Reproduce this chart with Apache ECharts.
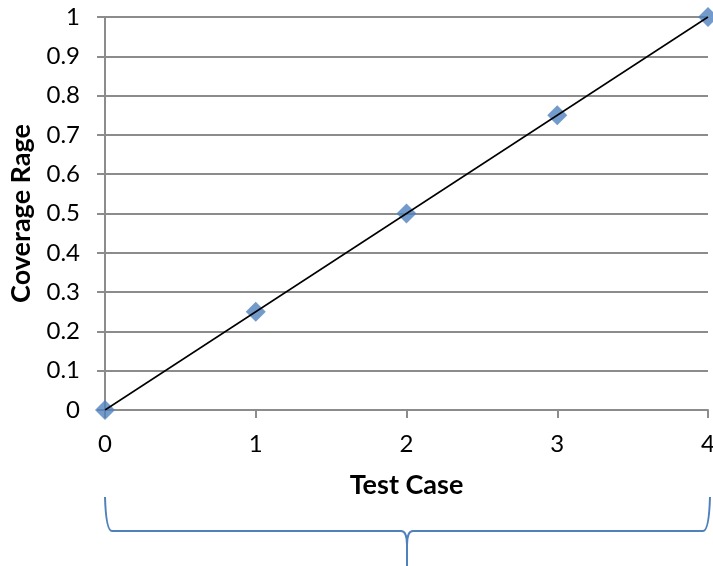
<!DOCTYPE html>
<html>
<head>
<meta charset="utf-8">
<script src="https://cdn.jsdelivr.net/npm/echarts@6/dist/echarts.min.js"></script>
<style>
  html, body { margin: 0; padding: 0; background: #fff; }
  #chart { width: 713px; height: 566px; }
</style>
</head>
<body>
<div id="chart"></div>
<script>
// Coverage rate measured after each test case
const testCases = [0, 1, 2, 3, 4];
const coverage = [0, 0.25, 0.5, 0.75, 1];
// Linear trend line endpoints (fit over the measured points)
const trendX = [0, 4];
const trendY = [0, 1];

const FONT = 'Lato, "Open Sans", sans-serif';
const chart = echarts.init(document.getElementById('chart'));

// Curly brace under the x axis, built from quadratic curves and straight segments
const braceStyle = { fill: null, stroke: '#4f81bd', lineWidth: 2 };
const curve = (x1, y1, cx, cy, x2, y2) => ({
  type: 'bezierCurve',
  shape: { x1, y1, x2, y2, cpx1: cx, cpy1: cy },
  style: braceStyle
});
const seg = (x1, y1, x2, y2) => ({
  type: 'line',
  shape: { x1, y1, x2, y2 },
  style: braceStyle
});

chart.setOption({
  animation: false,
  backgroundColor: '#ffffff',
  grid: { left: 105, right: 5, top: 17, bottom: 156, containLabel: false, outerBoundsMode: 'none' },
  xAxis: {
    type: 'value',
    min: 0, max: 4, interval: 1,
    name: 'Test Case',
    nameLocation: 'middle',
    nameGap: 62,
    nameTextStyle: { fontFamily: FONT, fontWeight: 'bold', fontSize: 27, color: '#000' },
    axisLine: { show: true, lineStyle: { color: '#8c8c8c', width: 2 } },
    axisTick: { show: true, length: 8, lineStyle: { color: '#8c8c8c', width: 2 } },
    axisLabel: { fontFamily: FONT, fontSize: 24, color: '#000', margin: 22 },
    splitLine: { show: false }
  },
  yAxis: {
    type: 'value',
    min: 0, max: 1, interval: 0.1,
    name: 'Coverage Rage',
    nameLocation: 'middle',
    nameGap: 70,
    nameRotate: 90,
    nameTextStyle: { fontFamily: FONT, fontWeight: 'bold', fontSize: 27, color: '#000' },
    axisLine: { show: true, lineStyle: { color: '#8c8c8c', width: 2 } },
    axisTick: { show: true, length: 8, lineStyle: { color: '#8c8c8c', width: 2 } },
    axisLabel: {
      fontFamily: FONT, fontSize: 24, color: '#000', margin: 25,
      formatter: v => String(Math.round(v * 10) / 10)
    },
    splitLine: { show: true, lineStyle: { color: '#8c8c8c', width: 2 } }
  },
  series: [
    {
      type: 'scatter',
      data: testCases.map((x, i) => [x, coverage[i]]),
      symbol: 'diamond',
      symbolSize: 20,
      itemStyle: { color: '#4f81bd' },
      clip: false,
      z: 2
    },
    {
      type: 'line',
      data: trendX.map((x, i) => [x, trendY[i]]),
      showSymbol: false,
      symbol: 'none',
      lineStyle: { color: '#000', width: 1.5 },
      z: 3
    }
  ],
  graphic: [
    curve(105, 497, 106, 531, 112, 531),
    seg(112, 531, 401, 531),
    curve(401, 531, 407, 531, 407, 545),
    seg(407, 545, 407, 566),
    curve(413, 531, 407, 531, 407, 545),
    seg(413, 531, 703, 531),
    curve(703, 531, 709, 531, 710, 497)
  ]
});
</script>
</body>
</html>
